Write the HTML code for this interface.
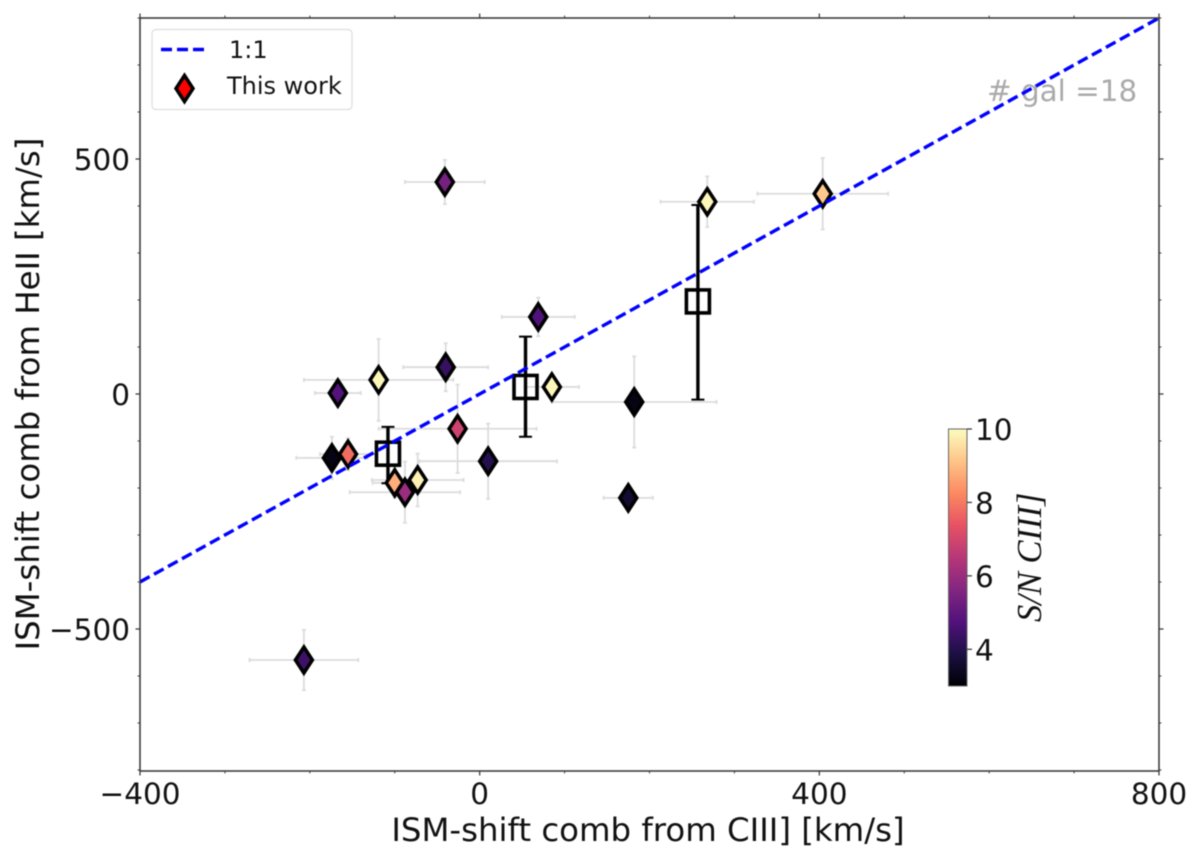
<!DOCTYPE html>
<html lang="en">
<head>
<meta charset="utf-8">
<title>ISM-shift comparison</title>
<style>
html,body{margin:0;padding:0;background:#fff;width:1200px;height:857px;overflow:hidden}
svg{display:block;filter:blur(0.4px)}
text{font-family:"DejaVu Sans","Liberation Sans",sans-serif;fill:#111}
</style>
</head>
<body>
<svg id="chart" width="1200" height="857" viewBox="0 0 1200 857" xmlns="http://www.w3.org/2000/svg">
  <defs>
    <clipPath id="plot-clip"><rect x="140" y="18" width="1019" height="753"/></clipPath>
    <linearGradient id="magma-gradient" x1="0" y1="1" x2="0" y2="0">
      <stop offset="0" stop-color="#000004"/>
      <stop offset="0.125" stop-color="#1c1044"/>
      <stop offset="0.25" stop-color="#51127c"/>
      <stop offset="0.375" stop-color="#832681"/>
      <stop offset="0.5" stop-color="#b73779"/>
      <stop offset="0.625" stop-color="#e75263"/>
      <stop offset="0.75" stop-color="#fc8961"/>
      <stop offset="0.875" stop-color="#fec488"/>
      <stop offset="1" stop-color="#fcfdbf"/>
    </linearGradient>
  </defs>
  <g id="grey-errors"></g>
  <g id="bin-errors"></g>
  <g id="points"></g>
  <text x="987" y="101" font-size="29.4" style="fill:#aaaaaa"># gal =18</text>
  <g id="bins"></g>
  <line id="one-to-one" clip-path="url(#plot-clip)" stroke="#0000ff" stroke-width="3.4" stroke-dasharray="11 5"/>
  <rect x="140" y="18" width="1019" height="753" fill="none" stroke="#333" stroke-width="1.5"/>
  <g id="ticks" stroke="#333"></g>
  <g id="tick-labels"></g>
  <text x="648" y="841" font-size="32.4" text-anchor="middle">ISM-shift comb from CIII] [km/s]</text>
  <text transform="translate(39,394) rotate(-90)" font-size="32.4" text-anchor="middle">ISM-shift comb from HeII [km/s]</text>

  <g>
    <rect x="152" y="29.500" width="200" height="80" rx="4" fill="#fff" stroke="#ddd" stroke-width="1.2"/>
    <line x1="161" y1="49.500" x2="209" y2="49.500" stroke="#0000ff" stroke-width="3.4" stroke-dasharray="11 5"/>
    <text x="229" y="58" font-size="24">1:1</text>
    <path d="M184.500 75.500 L193 88.500 L184.500 101.500 L176 88.500 Z" fill="#ff0000" stroke="#000" stroke-width="3.500" stroke-linejoin="miter"/>
    <text x="227" y="94" font-size="24">This work</text>
  </g>

  <g>
    <rect x="948.500" y="429" width="18.500" height="257" fill="url(#magma-gradient)" stroke="#666" stroke-width="1"/>
    <g id="cbar-ticks"></g>
    <text transform="translate(1041,622) rotate(-90)" font-size="34.5" font-style="italic" style="font-family:'Liberation Serif',serif">S/N CIII]</text>
  </g>
</svg>
<script>
// Chart data
const pointX = [-41, 268, 404, 69, 85, 182, 175, 10, -26, -40, -119, -167, -174, -155, -100, -73, -88, -207];
const pointY = [451, 409, 426, 164, 15, -17, -221, -143, -74, 57, 30, 2, -136, -128, -189, -183, -209, -566];
const pointXErr = [47, 55, 77, 43, 32, 97, 29, 81, 93, 50, 88, 27, 42, 33, 26, 54, 65, 64];
const pointYErr = [47, 54, 76, 41, 21, 97, 21, 80, 94, 51, 87, 21, 45, 34, 32, 56, 65, 64];
const pointSN = [5.4, 9.9, 9.2, 4.7, 9.9, 3.2, 3.6, 4.0, 6.9, 4.3, 9.9, 4.8, 3.2, 7.8, 8.8, 9.8, 6.0, 4.4];
const binX = [-108, 54, 257];
const binY = [-127, 15, 197];
const binYLow = [-190, -91, -12];
const binYHigh = [-70, 122, 402];
const xMajorTicks = [-400, 0, 400, 800];
const xMinorTicks = [-300, -200, -100, 100, 200, 300, 500, 600, 700];
const yMajorTicks = [-500, 0, 500];
const yMinorTicks = [-800, -700, -600, -400, -300, -200, -100, 100, 200, 300, 400, 600, 700, 800];
const cbarTicks = [4, 6, 8, 10];
const oneToOne = [-400, 800];
const magmaStops = ['#000004', '#1c1044', '#51127c', '#832681', '#b73779', '#e75263', '#fc8961', '#fec488', '#fcfdbf'];

const NS = 'http://www.w3.org/2000/svg';
const xScale = v => 140 + (v + 400) * 1019 / 1200;
const yScale = v => 394 - v * 0.47;
const cbarScale = v => 686 - (v - 3) * 257 / 7;

function make(tag, attrs, parent) {
  const el = document.createElementNS(NS, tag);
  for (const k in attrs) el.setAttribute(k, attrs[k]);
  parent.appendChild(el);
  return el;
}
function hexToRgb(h) {
  return [1, 3, 5].map(i => parseInt(h.substr(i, 2), 16));
}
function magma(sn) {
  const t = Math.max(0, Math.min(1, (sn - 3) / 7)) * (magmaStops.length - 1);
  const i = Math.min(Math.floor(t), magmaStops.length - 2);
  const a = hexToRgb(magmaStops[i]);
  const b = hexToRgb(magmaStops[i + 1]);
  const f = t - i;
  return 'rgb(' + a.map((c, j) => Math.round(c + (b[j] - c) * f)).join(',') + ')';
}
function diamondPath(cx, cy) {
  return 'M' + cx + ' ' + (cy - 13) + ' L' + (cx + 8.5) + ' ' + cy + ' L' + cx + ' ' + (cy + 13) + ' L' + (cx - 8.5) + ' ' + cy + ' Z';
}

const greyG = document.getElementById('grey-errors');
const pointsG = document.getElementById('points');
const binErrG = document.getElementById('bin-errors');
const binsG = document.getElementById('bins');
const ticksG = document.getElementById('ticks');
const labelsG = document.getElementById('tick-labels');
const cbarG = document.getElementById('cbar-ticks');

// Point error bars
pointX.forEach((x, i) => {
  const cx = xScale(x), cy = yScale(pointY[i]);
  const x0 = xScale(x - pointXErr[i]), x1 = xScale(x + pointXErr[i]);
  const y0 = yScale(pointY[i] - pointYErr[i]), y1 = yScale(pointY[i] + pointYErr[i]);
  const d = 'M' + x0 + ' ' + cy + 'H' + x1 + 'M' + cx + ' ' + y0 + 'V' + y1 +
    'M' + x0 + ' ' + (cy - 2) + 'V' + (cy + 2) + 'M' + x1 + ' ' + (cy - 2) + 'V' + (cy + 2) +
    'M' + (cx - 2) + ' ' + y0 + 'H' + (cx + 2) + 'M' + (cx - 2) + ' ' + y1 + 'H' + (cx + 2);
  const err = make('path', { d: d, fill: 'none', stroke: '#dcdcdc', 'stroke-width': 1.8 }, greyG);
  
  
});

// Binned error bars
binX.forEach((x, i) => {
  const cx = xScale(x), y0 = yScale(binYLow[i]), y1 = yScale(binYHigh[i]);
  const bar = make('path', {
    d: 'M' + cx + ' ' + y0 + 'V' + y1, fill: 'none', stroke: '#000', 'stroke-width': 3.4
  }, binErrG);
  
  
  const caps = make('path', {
    d: 'M' + (cx - 6.5) + ' ' + y0 + 'H' + (cx + 6.5) + 'M' + (cx - 6.5) + ' ' + y1 + 'H' + (cx + 6.5),
    fill: 'none', stroke: '#000', 'stroke-width': 2
  }, binErrG);
  
  
  const sq = make('rect', {
    x: cx - 11.5, y: yScale(binY[i]) - 11.5, width: 23, height: 23,
    fill: 'none', stroke: '#000', 'stroke-width': 3.6
  }, binsG);
  
  
});

// Points
pointX.forEach((x, i) => {
  const cx = xScale(x), cy = yScale(pointY[i]);
  const under = make('path', { d: diamondPath(cx, cy), fill: '#ff0000' }, pointsG);
  
  
  const top = make('path', {
    d: diamondPath(cx - 0.8, cy - 0.4), fill: magma(pointSN[i])
  }, pointsG);
  
  
  const edge = make('path', {
    d: diamondPath(cx, cy), fill: 'none', stroke: '#000', 'stroke-width': 3.5
  }, pointsG);
  
  
});

// 1:1 line
const line = document.getElementById('one-to-one');
line.setAttribute('x1', xScale(oneToOne[0]));
line.setAttribute('y1', yScale(oneToOne[0]));
line.setAttribute('x2', xScale(oneToOne[1]));
line.setAttribute('y2', yScale(oneToOne[1]));

// Axis ticks
function xTick(v, len, w) {
  const px = xScale(v);
  const b = make('line', { x1: px, x2: px, y1: 771, y2: 771 + len, 'stroke-width': w }, ticksG);
  
  
  const t = make('line', { x1: px, x2: px, y1: 18, y2: 18 - len, 'stroke-width': w }, ticksG);
  
  
}
function yTick(v, len, w) {
  const py = yScale(v);
  const l = make('line', { x1: 140, x2: 140 - len, y1: py, y2: py, 'stroke-width': w }, ticksG);
  
  
  const r = make('line', { x1: 1159, x2: 1159 + len, y1: py, y2: py, 'stroke-width': w }, ticksG);
  
  
}
xMajorTicks.forEach(v => xTick(v, 4.5, 1.2));
xMinorTicks.forEach(v => xTick(v, 2.5, 0.9));
yMajorTicks.forEach(v => yTick(v, 4.5, 1.2));
yMinorTicks.forEach(v => yTick(v, 2.5, 0.9));

function fmt(v) {
  return v < 0 ? '\u2212' + Math.abs(v) : String(v);
}
xMajorTicks.forEach(v => {
  const t = make('text', { x: xScale(v), y: 804, 'font-size': 29.5, 'text-anchor': 'middle' }, labelsG);
  t.textContent = fmt(v);
  
  
});
yMajorTicks.forEach(v => {
  const t = make('text', { x: 130, y: yScale(v) + 11, 'font-size': 29.5, 'text-anchor': 'end' }, labelsG);
  t.textContent = fmt(v);
  
  
});

// Colorbar ticks
cbarTicks.forEach(v => {
  const py = cbarScale(v);
  const tk = make('line', { x1: 967, x2: 972, y1: py, y2: py, stroke: '#333', 'stroke-width': 1.2 }, cbarG);
  
  
  const t = make('text', { x: 975, y: py + 11, 'font-size': 29.5 }, cbarG);
  t.textContent = String(v);
  
  
});
</script>
</body>
</html>
